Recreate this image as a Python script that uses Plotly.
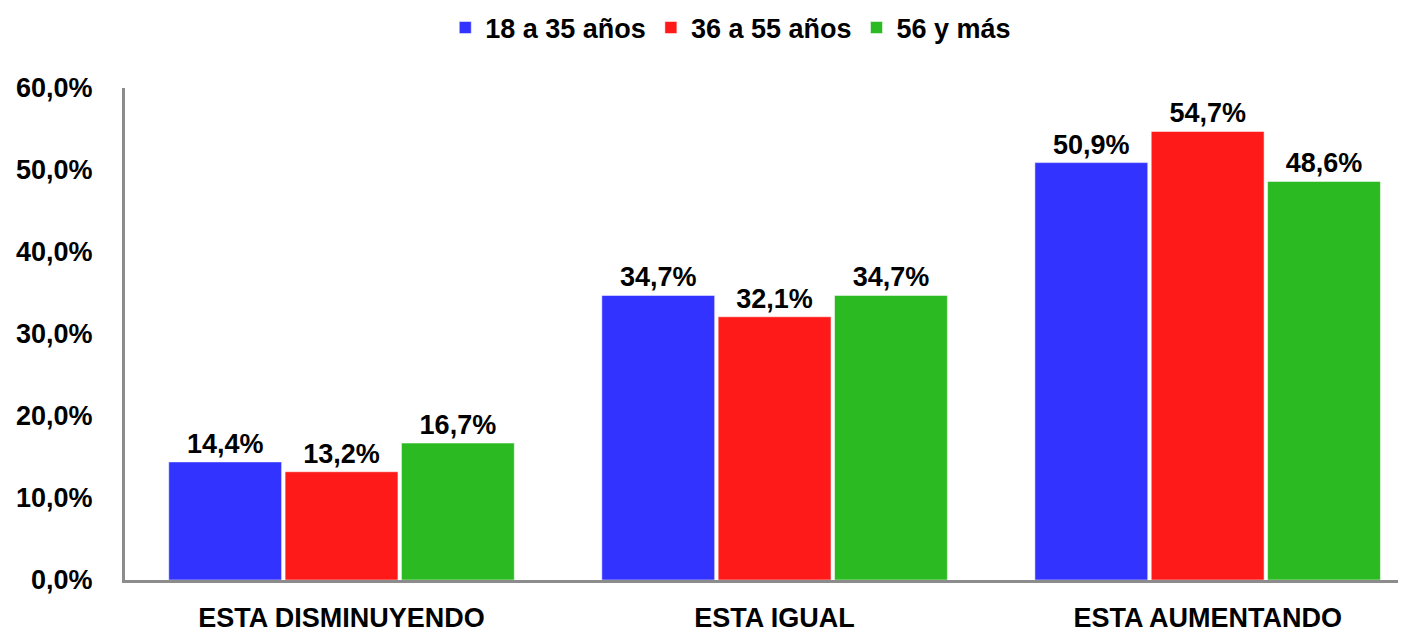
import plotly.graph_objects as go

categories = ["ESTA DISMINUYENDO", "ESTA IGUAL", "ESTA AUMENTANDO"]
series_names = ["18 a 35 años", "36 a 55 años", "56 y más"]
v_18_35 = [14.4, 34.7, 50.9]
v_36_55 = [13.2, 32.1, 54.7]
v_56_mas = [16.7, 34.7, 48.6]
colors = ["#3333FF", "#FF1A1A", "#2CBA22"]
y_ticks = [0, 10, 20, 30, 40, 50, 60]
y_tick_labels = ["0,0%", "10,0%", "20,0%", "30,0%", "40,0%", "50,0%", "60,0%"]

FONT = "Liberation Sans, Arial, sans-serif"

def f(size=27):
    return dict(family=FONT, size=size, color="#000000", weight="bold")

fig = go.Figure()
for name, vals, col in zip(series_names, [v_18_35, v_36_55, v_56_mas], colors):
    fig.add_trace(go.Bar(
        x=categories, y=vals, name=name,
        marker=dict(color=col, line=dict(color="rgba(255,255,255,0.5)", width=1)),
        text=vals, texttemplate="%{y:.1f}%", textposition="outside",
        textfont=f(27),
        cliponaxis=False,
    ))

# page is rendered with an 8px body margin, so the figure is sized to fit
fig.update_layout(
    width=1398, height=626,
    margin=dict(l=117, r=0, t=80, b=54, autoexpand=False),
    paper_bgcolor="white", plot_bgcolor="white",
    separators=",.",
    barmode="group", bargap=0.194, bargroupgap=0.03,
    font=f(),
    legend=dict(orientation="h", x=0.517, xref="container", xanchor="center",
                y=1.122, yref="paper", yanchor="middle", font=f(27),
                itemwidth=30, tracegroupgap=0),
    showlegend=True,
)
fig.update_xaxes(
    range=[-0.5, 2.458], showline=True, linecolor="#8C8C8C", linewidth=3,
    showgrid=False, ticks="", ticklabelstandoff=12,
    tickfont=f(27),
)
fig.update_yaxes(
    range=[0, 60], tickvals=y_ticks, ticktext=y_tick_labels,
    showline=True, linecolor="#8C8C8C", linewidth=3, showgrid=False,
    zeroline=False, ticks="", ticklabelstandoff=24,
    tickfont=f(27),
)
fig.write_html("out.html")
